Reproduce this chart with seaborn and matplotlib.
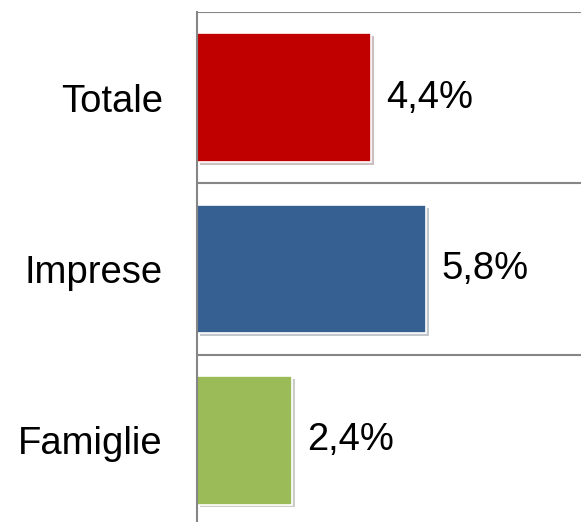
import matplotlib
matplotlib.use("Agg")
import matplotlib.pyplot as plt
import matplotlib.patheffects as pe
import seaborn as sns
import pandas as pd

categories = ["Totale", "Imprese", "Famiglie"]
values = [4.4, 5.8, 2.4]
labels = ["4,4%", "5,8%", "2,4%"]
colors = ["#C00000", "#376092", "#9BBB59"]

sns.set_style("white")
plt.rcParams['font.family'] = ['Liberation Sans', 'DejaVu Sans']

df = pd.DataFrame({"cat": categories, "val": values})

fig = plt.figure(figsize=(5.81, 5.22), dpi=100)
ax = fig.add_axes([197 / 581, (522 - 526) / 522, 1 - 197 / 581, (526 - 12) / 522])

sns.barplot(data=df, y="cat", x="val", hue="cat", palette=colors, order=categories,
            saturation=1, width=0.75, edgecolor="white", linewidth=1.2, legend=False, ax=ax)

for p in ax.patches:
    p.set_path_effects([pe.SimplePatchShadow(offset=(2, -2), alpha=0.25), pe.Normal()])

for i, (v, t) in enumerate(zip(values, labels)):
    ax.text(v + 0.38, i, t, va="center", ha="left", fontsize=27.5, color="black")

ax.set_xlim(0, 384 / 39.5)
ax.set_ylim(2.5, -0.5)
ax.set_xlabel("")
ax.set_ylabel("")
ax.set_xticks([])
ax.tick_params(axis="y", length=0, pad=24.5, labelsize=27.5, labelcolor="black")

for y in [-0.5, 0.5, 1.5]:
    ax.axhline(y, color="#868686", lw=1.5, zorder=0)

for s in ["top", "right", "bottom"]:
    ax.spines[s].set_visible(False)
ax.spines["left"].set_color("#868686")
ax.spines["left"].set_linewidth(1.5)

fig.savefig("out.png", dpi=100)
